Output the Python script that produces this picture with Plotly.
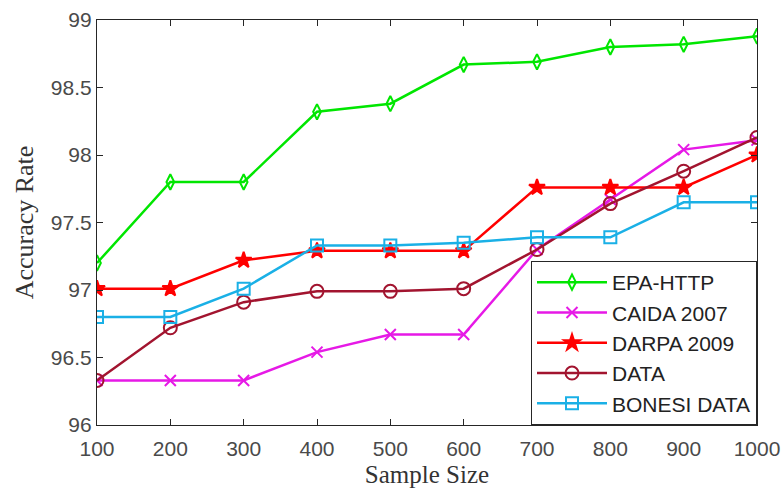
import plotly.graph_objects as go

sample_size = [100, 200, 300, 400, 500, 600, 700, 800, 900, 1000]
epa_http = [97.20, 97.80, 97.80, 98.32, 98.38, 98.67, 98.69, 98.80, 98.82, 98.88]
caida_2007 = [96.33, 96.33, 96.33, 96.54, 96.67, 96.67, 97.30, 97.67, 98.04, 98.11]
darpa_2009 = [97.01, 97.01, 97.22, 97.29, 97.29, 97.29, 97.76, 97.76, 97.76, 98.00]
data_set = [96.33, 96.72, 96.91, 96.99, 96.99, 97.01, 97.30, 97.64, 97.88, 98.13]
bonesi = [96.80, 96.80, 97.01, 97.33, 97.33, 97.35, 97.39, 97.39, 97.65, 97.65]

series = [
    ("EPA-HTTP", epa_http, "#00e600", "diamond-tall-open", 11),
    ("CAIDA 2007", caida_2007, "#e619e6", "x-thin-open", 11),
    ("DARPA 2009", darpa_2009, "#ff0000", "star", 12),
    ("DATA", data_set, "#a2142f", "circle-open", 13),
    ("BONESI DATA", bonesi, "#1ab0e6", "square-open", 12),
]

fig = go.Figure()
for name, vals, col, sym, sz in series:
    fig.add_trace(go.Scatter(
        x=sample_size, y=vals, name=name, mode="lines+markers",
        line=dict(color=col, width=2.5),
        marker=dict(symbol=sym, size=sz, color=col, line=dict(color=col, width=2)),
    ))

axis_common = dict(
    showline=True, linecolor="#262626", linewidth=1.2, mirror="ticks",
    ticks="inside", ticklen=6, tickcolor="#262626", showgrid=False, zeroline=False,
    automargin=False, ticklabeloverflow="allow",
    tickfont=dict(family="Liberation Sans, Arial", size=21, color="#4a4a4a"),
)

fig.update_xaxes(range=[100, 1000], tickvals=sample_size, ticklabelstandoff=5,
                 title=dict(text="Sample Size", font=dict(family="Liberation Serif, Times New Roman", size=25, color="#333"), standoff=6),
                 **axis_common)
fig.update_yaxes(range=[96, 99], tickvals=[96, 96.5, 97, 97.5, 98, 98.5, 99],
                 ticktext=["96", "96.5", "97", "97.5", "98", "98.5", "99"],
                 title=dict(text="Accuracy Rate", font=dict(family="Liberation Serif, Times New Roman", size=26, color="#333"), standoff=9),
                 **axis_common)

fig.update_layout(
    width=781, height=494,
    margin=dict(l=97, r=24, t=20, b=69),
    plot_bgcolor="white", paper_bgcolor="white",
    legend=dict(x=1, y=0, xanchor="right", yanchor="bottom",
                bordercolor="#262626", borderwidth=1, bgcolor="white",
                font=dict(family="Liberation Sans, Arial", size=21, color="#222"),
                itemwidth=70, tracegroupgap=0),
)

fig.write_html("out.html", config={"displayModeBar": False},
               post_script="document.body.style.margin='0';")
